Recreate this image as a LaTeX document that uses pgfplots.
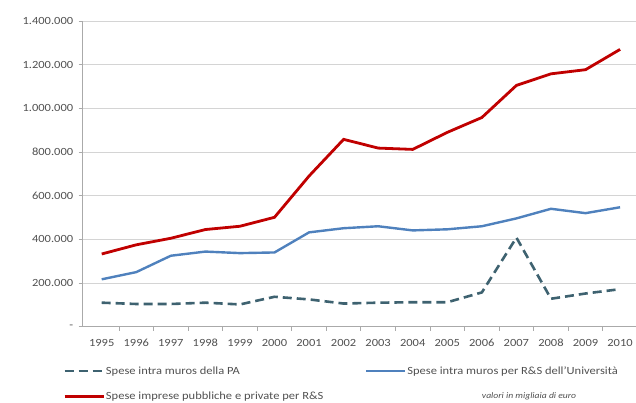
\documentclass[border=0pt]{standalone}
\usepackage{fontspec}
\setmainfont[FakeStretch=1.14]{Carlito}
\usepackage{pgfplots}
\pgfplotsset{compat=1.18}
\definecolor{paDash}{RGB}{62,98,112}
\definecolor{uniBlue}{RGB}{79,129,189}
\definecolor{impRed}{RGB}{192,0,0}
\definecolor{tickGray}{RGB}{80,80,80}
\definecolor{gridGray}{RGB}{212,212,212}

% spesa in migliaia di euro
\pgfplotstableread{
year pa     univ   imprese
1995 110000 217000 333000
1996 104000 250000 375000
1997 104000 325000 405000
1998 110000 344000 445000
1999 102000 337000 460000
2000 137000 340000 501000
2001 125000 432000 690000
2002 106000 451000 858000
2003 110000 460000 818000
2004 112000 441000 812000
2005 112000 446000 890000
2006 157000 460000 958000
2007 408000 496000 1105000
2008 128000 540000 1158000
2009 152000 520000 1177000
2010 172000 547000 1270000
}\spese

\begin{document}
\begin{tikzpicture}
\useasboundingbox (-82.7bp,-76.3bp) rectangle (553.3bp,326.7bp);
\begin{axis}[
    at={(0,0)}, anchor=south west, scale only axis,
    width=553.3bp, height=305.7bp,
    xmin=1994.45, xmax=2010.46, ymin=0, ymax=1400000,
    axis x line*=bottom, axis y line*=left,
    axis line style={gridGray!80!black, line width=0.8bp, -},
    xtick={1995,...,2010},
    xticklabels={1995,1996,1997,1998,1999,2000,2001,2002,2003,2004,2005,2006,2007,2008,2009,2010},
    minor xtick={1995.5,1996.5,...,2009.5},
    major x tick style={draw=none},
    minor tick length=4bp,
    ytick={0,200000,...,1400000},
    yticklabels={{-\hspace{8bp}},200.000,400.000,600.000,800.000,1.000.000,1.200.000,1.400.000},
    scaled y ticks=false,
    tick align=outside, major tick length=4bp,
    tick style={gridGray!80!black, line width=0.8bp},
    ymajorgrids, grid style={gridGray, line width=0.9bp},
    ticklabel style={font=\fontsize{11}{12}\selectfont, text=tickGray},
    xticklabel style={yshift=-5bp},
    yticklabel style={xshift=-2bp},
    /pgf/number format/assume math mode=true,
    legend columns=2,
    legend style={at={(axis description cs:-0.0356,-0.126)}, anchor=north west,
        draw=none, fill=none, inner sep=0pt, row sep=14.5bp,
        font=\fontsize{11}{12}\selectfont, text=tickGray,
        nodes={inner sep=1bp},
        /tikz/every even column/.append style={column sep=4bp}},
    legend image code/.code={\draw[#1] (0bp,0bp) -- (39bp,0bp);},
]
  \addplot[paDash, line width=2.6bp, dash pattern=on 9bp off 5bp] table[x=year,y=pa]{\spese};
  \addlegendentry{\makebox[254bp][l]{Spese intra muros della PA}}
  \addplot[uniBlue, line width=2.4bp] table[x=year,y=univ]{\spese};
  \addlegendentry{Spese intra muros per R\&S dell'Università}
  \addplot[impRed, line width=2.8bp] table[x=year,y=imprese]{\spese};
  \addlegendentry{\makebox[254bp][l]{Spese imprese pubbliche e private per R\&S}}
  \addlegendimage{empty legend}
  \addlegendentry{\hspace{33bp}{\fontsize{8.5}{10}\selectfont\itshape valori in migliaia di euro}}
\end{axis}
\end{tikzpicture}
\end{document}
